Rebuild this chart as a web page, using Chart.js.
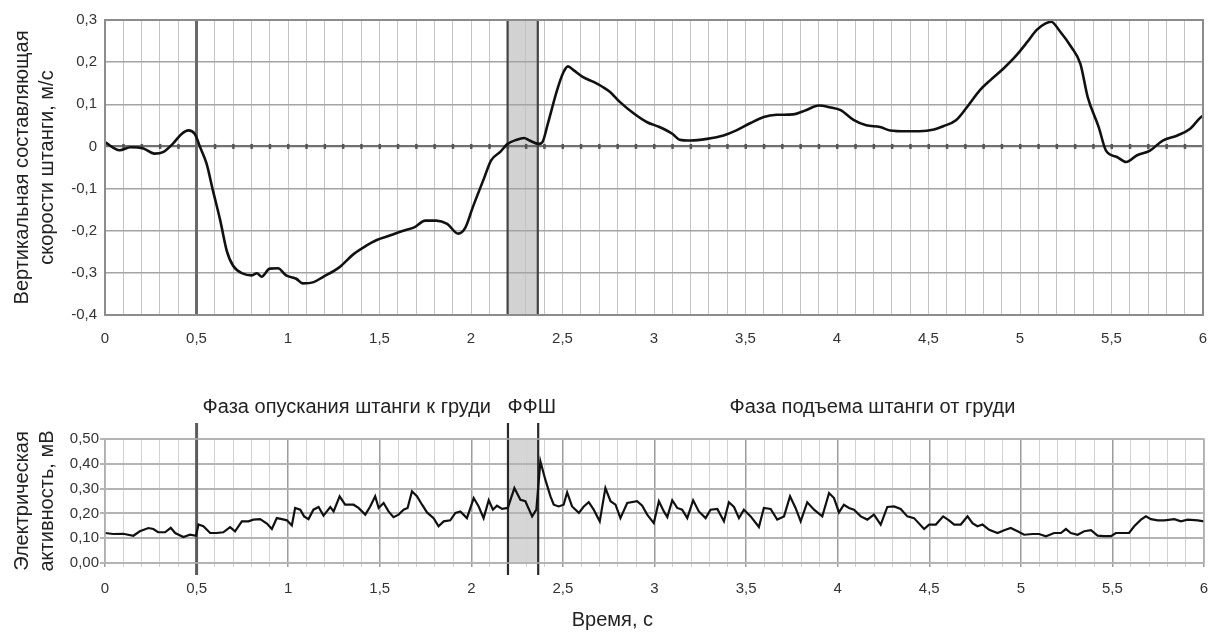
<!DOCTYPE html>
<html lang="ru">
<head>
<meta charset="utf-8">
<title>Скорость штанги и электрическая активность</title>
<script src="https://cdn.jsdelivr.net/npm/chart.js@4.4.1/dist/chart.umd.min.js"></script>
<style>
  html, body { margin: 0; padding: 0; background: #fff; }
  #wrap { position: relative; width: 1213px; height: 632px; }
  canvas { position: absolute; left: 0; }
  #speed { top: 0; }
  #emg { top: 360px; }
</style>
</head>
<body>
<div id="wrap">
  <canvas id="speed" width="1213" height="360"></canvas>
  <canvas id="emg" width="1213" height="272"></canvas>
</div>
<script>
// Vertical component of bar speed, m/s
const speedTime = [0, 0.08, 0.14, 0.21, 0.27, 0.32, 0.37, 0.42, 0.455, 0.49, 0.52, 0.555, 0.59, 0.63, 0.665, 0.70,
  0.755, 0.80, 0.83, 0.855, 0.90, 0.945, 0.99, 1.045, 1.08, 1.14, 1.19, 1.28, 1.36, 1.43, 1.485, 1.56, 1.63, 1.69,
  1.75, 1.81, 1.87, 1.93, 1.97, 2.01, 2.07, 2.11, 2.16, 2.20, 2.25, 2.29, 2.32, 2.37, 2.39, 2.42, 2.47, 2.505, 2.53,
  2.56, 2.61, 2.67, 2.72, 2.76, 2.81, 2.89, 2.96, 3.03, 3.10, 3.14, 3.20, 3.29, 3.38, 3.45, 3.525, 3.60, 3.67, 3.76,
  3.83, 3.90, 3.96, 4.02, 4.09, 4.16, 4.235, 4.29, 4.38, 4.45, 4.53, 4.58, 4.65, 4.71, 4.78, 4.84, 4.91, 4.98, 5.04,
  5.09, 5.14, 5.17, 5.22, 5.28, 5.33, 5.37, 5.43, 5.47, 5.53, 5.58, 5.64, 5.71, 5.78, 5.86, 5.93, 5.99, 6.0];
const speedValue = [0.010, -0.009, -0.002, -0.005, -0.017, -0.013, 0.006, 0.030, 0.038, 0.030, -0.002, -0.041,
  -0.105, -0.176, -0.247, -0.283, -0.302, -0.306, -0.301, -0.309, -0.290, -0.289, -0.306, -0.314, -0.325, -0.322,
  -0.310, -0.287, -0.255, -0.235, -0.222, -0.211, -0.200, -0.192, -0.176, -0.176, -0.184, -0.207, -0.192, -0.144,
  -0.077, -0.033, -0.013, 0.006, 0.016, 0.020, 0.014, 0.006, 0.010, 0.054, 0.133, 0.176, 0.190, 0.181, 0.165, 0.153,
  0.141, 0.129, 0.107, 0.078, 0.058, 0.046, 0.030, 0.016, 0.014, 0.018, 0.026, 0.038, 0.055, 0.070, 0.075, 0.076,
  0.086, 0.097, 0.093, 0.086, 0.063, 0.050, 0.046, 0.038, 0.036, 0.036, 0.040, 0.048, 0.062, 0.093, 0.133, 0.158,
  0.185, 0.216, 0.248, 0.276, 0.292, 0.296, 0.272, 0.236, 0.196, 0.117, 0.046, -0.010, -0.025, -0.037, -0.021,
  -0.010, 0.014, 0.026, 0.042, 0.070, 0.072];

// Electrical activity of the muscle, mV
const emgTime = [0, 0.045, 0.10, 0.155, 0.19, 0.237, 0.264, 0.29, 0.328, 0.359, 0.383, 0.428, 0.464, 0.497, 0.51,
  0.537, 0.574, 0.61, 0.646, 0.683, 0.71, 0.747, 0.783, 0.81, 0.847, 0.884, 0.911, 0.938, 0.966, 0.993, 1.02, 1.038,
  1.066, 1.087, 1.111, 1.138, 1.166, 1.193, 1.23, 1.248, 1.281, 1.311, 1.357, 1.384, 1.421, 1.448,
  1.475, 1.494, 1.521, 1.548, 1.575, 1.603, 1.63, 1.652, 1.676, 1.703, 1.731, 1.758, 1.794, 1.821, 1.849, 1.885,
  1.913, 1.94, 1.976, 2.013, 2.04, 2.067, 2.095, 2.118, 2.14, 2.168, 2.199, 2.235, 2.268, 2.295, 2.332, 2.355, 2.377,
  2.404, 2.432, 2.45, 2.477, 2.504, 2.523, 2.55, 2.587, 2.614, 2.641, 2.668, 2.701, 2.732, 2.76, 2.787, 2.814, 2.851,
  2.905, 2.933,
  2.96, 2.996, 3.024, 3.051, 3.07, 3.097, 3.124, 3.151, 3.179, 3.211, 3.242, 3.279, 3.306, 3.343, 3.379, 3.406, 3.434,
  3.461, 3.488, 3.525, 3.57, 3.597, 3.634, 3.67, 3.707, 3.74, 3.77, 3.798, 3.834, 3.871, 3.916, 3.953, 3.98, 4.007,
  4.034, 4.062, 4.089, 4.126, 4.162, 4.198, 4.235, 4.271, 4.308, 4.344, 4.38, 4.417,
  4.472, 4.499, 4.536, 4.576, 4.608, 4.636, 4.672, 4.709, 4.736, 4.763, 4.791, 4.827, 4.873, 4.909, 4.945, 4.982,
  5.018, 5.064, 5.1, 5.137, 5.182, 5.219, 5.246, 5.273, 5.31, 5.346, 5.383, 5.419, 5.455, 5.492, 5.519, 5.555, 5.591,
  5.619, 5.656, 5.683, 5.71, 5.747, 5.783, 5.838, 5.874, 5.911, 5.966, 6.0];
const emgValue = [0.121, 0.117, 0.118, 0.110, 0.128, 0.141, 0.137, 0.124, 0.124, 0.142, 0.121, 0.105, 0.114, 0.110,
  0.155, 0.148, 0.121, 0.121, 0.124, 0.145, 0.128, 0.168, 0.168, 0.175, 0.177, 0.159, 0.137, 0.181, 0.177, 0.172,
  0.151, 0.222, 0.215, 0.188, 0.177, 0.215, 0.226, 0.191, 0.226, 0.208, 0.269, 0.235, 0.235, 0.222, 0.195, 0.228,
  0.269, 0.222, 0.242, 0.208, 0.185, 0.195, 0.215, 0.222, 0.289, 0.269, 0.235, 0.204, 0.181, 0.148, 0.168, 0.172,
  0.202, 0.208, 0.181, 0.262, 0.228, 0.181, 0.253, 0.215, 0.231, 0.218, 0.222, 0.302, 0.255, 0.249, 0.188, 0.215,
  0.410, 0.336, 0.269, 0.235, 0.228, 0.235, 0.285, 0.228, 0.202, 0.228, 0.245, 0.215, 0.168, 0.302, 0.249, 0.235,
  0.181, 0.242, 0.249, 0.231,
  0.195, 0.161, 0.249, 0.208, 0.185, 0.253, 0.222, 0.215, 0.181, 0.253, 0.208, 0.181, 0.215, 0.218, 0.168, 0.245,
  0.226, 0.181, 0.215, 0.188, 0.145, 0.222, 0.218, 0.175, 0.188, 0.269, 0.222, 0.168, 0.245, 0.215, 0.188, 0.282,
  0.262, 0.204, 0.235, 0.222, 0.215, 0.188, 0.175, 0.195, 0.155, 0.226, 0.228, 0.218, 0.188, 0.181,
  0.137, 0.155, 0.155, 0.188, 0.172, 0.155, 0.155, 0.188, 0.161, 0.148, 0.155, 0.134, 0.121, 0.132, 0.141, 0.128,
  0.114, 0.117, 0.117, 0.108, 0.121, 0.121, 0.137, 0.121, 0.114, 0.128, 0.132, 0.110, 0.108, 0.108, 0.121, 0.121,
  0.121, 0.148, 0.175, 0.188, 0.177, 0.172, 0.172, 0.177, 0.168, 0.175, 0.172, 0.168];

// Phase boundaries of the lift, s
const phaseMarks = [0.5, 2.2, 2.365];
const chestPause = [2.2, 2.365];
const phaseLabels = ['Фаза опускания штанги к груди', 'ФФШ', 'Фаза подъема штанги от груди'];

// Tick labels
const timeTickLabels = ['0', '0,5', '1', '1,5', '2', '2,5', '3', '3,5', '4', '4,5', '5', '5,5', '6'];
const speedTickLabels = ['-0,4', '-0,3', '-0,2', '-0,1', '0', '0,1', '0,2', '0,3'];
const emgTickLabels = ['0,00', '0,10', '0,20', '0,30', '0,40', '0,50'];

const FONT = "'Liberation Sans', Arial, Helvetica, sans-serif";
Chart.defaults.font.family = FONT;
Chart.defaults.color = '#333';

const toPoints = (xs, ys) => xs.map((x, i) => ({ x, y: ys[i] }));
const timeLabel = v => {
  const k = Math.round(v * 10);
  return k % 5 === 0 ? timeTickLabels[k / 5] : '';
};
const isHalf = v => Math.round(v * 10) % 5 === 0;
// keep the plot edges fixed: no extra room for the end tick labels
const fixTimeAxis = h => s => { s.height = h; s.paddingLeft = 0; s.paddingRight = 0; };

// Shaded chest pause and the vertical phase markers
const phasePlugin = {
  id: 'phases',
  beforeDraw(chart, args, o) {
    const { ctx, chartArea: a, scales: { x } } = chart;
    const x0 = x.getPixelForValue(chestPause[0]);
    const x1 = x.getPixelForValue(chestPause[1]);
    ctx.save();
    ctx.fillStyle = o.shade;
    ctx.fillRect(x0, a.top, x1 - x0, a.bottom - a.top);
    ctx.restore();
  },
  beforeDatasetsDraw(chart, args, o) {
    const { ctx, chartArea: a, scales: { x, y } } = chart;
    ctx.save();
    // small marks along the zero line
    if (o.zeroMarks) {
      const y0 = y.getPixelForValue(0);
      ctx.fillStyle = '#555';
      for (let k = 1; k < 60; k++) {
        const px = x.getPixelForValue(k / 10);
        ctx.fillRect(px - 1, y0 - 2.5, 2.5, 5);
      }
    }
    phaseMarks.forEach((t, i) => {
      const px = x.getPixelForValue(t);
      ctx.strokeStyle = i === 0 ? o.firstColor : o.lineColor;
      ctx.lineWidth = i === 0 ? o.firstWidth : o.lineWidth;
      ctx.beginPath();
      ctx.moveTo(px, a.top - o.extendTop);
      ctx.lineTo(px, a.bottom + o.extendBottom);
      ctx.stroke();
    });
    ctx.restore();
  },
  afterDraw(chart, args, o) {
    const { ctx, chartArea: a, scales: { x } } = chart;
    ctx.save();
    ctx.strokeStyle = o.frame;
    ctx.lineWidth = o.frameWidth;
    ctx.strokeRect(a.left, a.top, a.right - a.left, a.bottom - a.top);
    if (o.labels) {
      ctx.fillStyle = '#222';
      ctx.font = '20px ' + FONT;
      ctx.textAlign = 'center';
      ctx.textBaseline = 'middle';
      o.labels.forEach((txt, i) => {
        ctx.fillText(txt, x.getPixelForValue(o.labelAt[i]), o.labelY);
      });
      ctx.fillText(o.xTitle, x.getPixelForValue(o.xTitleAt), o.xTitleY);
    }
    ctx.restore();
  }
};

// Upper chart: bar speed
new Chart(document.getElementById('speed'), {
  type: 'line',
  data: {
    datasets: [{
      data: toPoints(speedTime, speedValue),
      borderColor: '#111',
      borderWidth: 2.6,
      pointRadius: 0,
      tension: 0.4,
      cubicInterpolationMode: 'monotone',
      fill: false
    }]
  },
  options: {
    responsive: false,
    animation: false,
    devicePixelRatio: 1,
    layout: { padding: { left: 0, right: 10, top: 20, bottom: 0 } },
    plugins: {
      legend: { display: false },
      tooltip: { enabled: false },
      phases: {
        shade: '#d2d2d2', firstColor: '#6a6a6a', firstWidth: 3, lineColor: '#444', lineWidth: 2.2,
        extendTop: 0, extendBottom: 0, zeroMarks: true, frame: '#8c8c8c', frameWidth: 2
      }
    },
    scales: {
      x: {
        type: 'linear', min: 0, max: 6,
        ticks: { stepSize: 0.1, autoSkip: false, maxRotation: 0, padding: 15, font: { size: 15 }, color: '#333',
          callback: timeLabel },
        grid: { color: '#c4c4c4', lineWidth: 1, drawTicks: false },
        border: { display: false },
        afterFit: fixTimeAxis(45)
      },
      y: {
        min: -0.4, max: 0.3,
        ticks: { stepSize: 0.1, padding: 8, font: { size: 15 }, color: '#333',
          callback: v => speedTickLabels[Math.round(v * 10) + 4] },
        grid: {
          drawTicks: false,
          color: c => (Math.abs(c.tick.value) < 1e-9 ? '#707070' : '#a4a4a4'),
          lineWidth: c => (Math.abs(c.tick.value) < 1e-9 ? 2.2 : 1.4)
        },
        border: { display: false },
        title: {
          display: true,
          text: ['Вертикальная составляющая', 'скорости штанги, м/с'],
          font: { size: 20, lineHeight: 1.25 },
          color: '#222',
          padding: { top: 9.5, bottom: 0 }
        },
        afterFit: s => { s.width = 105; }
      }
    }
  },
  plugins: [phasePlugin]
});

// Lower chart: electrical activity
new Chart(document.getElementById('emg'), {
  type: 'line',
  data: {
    datasets: [{
      data: toPoints(emgTime, emgValue),
      borderColor: '#111',
      borderWidth: 2.2,
      pointRadius: 0,
      tension: 0,
      fill: false
    }]
  },
  options: {
    responsive: false,
    animation: false,
    devicePixelRatio: 1,
    layout: { padding: { left: 0, right: 9, top: 79, bottom: 0 } },
    plugins: {
      legend: { display: false },
      tooltip: { enabled: false },
      phases: {
        shade: '#d6d6d6', firstColor: '#5c5c5c', firstWidth: 3, lineColor: '#2a2a2a', lineWidth: 2.2,
        extendTop: 16, extendBottom: 12, zeroMarks: false, frame: '#b4b4b4', frameWidth: 1.5,
        labels: phaseLabels, labelAt: [1.32, 2.33, 4.19], labelY: 47,
        xTitle: 'Время, с', xTitleAt: 2.77, xTitleY: 260
      }
    },
    scales: {
      x: {
        type: 'linear', min: 0, max: 6,
        ticks: { stepSize: 0.1, autoSkip: false, maxRotation: 0, padding: 13, font: { size: 15 }, color: '#333',
          callback: timeLabel },
        grid: {
          color: c => (isHalf(c.tick.value) ? '#9c9c9c' : '#d2d2d2'),
          lineWidth: c => (isHalf(c.tick.value) ? 1.5 : 1),
          drawTicks: true, tickLength: 4
        },
        border: { display: false },
        afterFit: fixTimeAxis(69)
      },
      y: {
        min: 0, max: 0.5,
        ticks: { stepSize: 0.1, padding: 1, font: { size: 15 }, color: '#333',
          callback: v => emgTickLabels[Math.round(v * 10)] },
        grid: { color: '#b4b4b4', lineWidth: 2, drawTicks: true, tickLength: 5 },
        border: { display: false },
        title: {
          display: true,
          text: ['Электрическая', 'активность, мВ'],
          font: { size: 20, lineHeight: 1.25 },
          color: '#222',
          padding: { top: 9.5, bottom: 0 }
        },
        afterFit: s => { s.width = 105; }
      }
    }
  },
  plugins: [phasePlugin]
});
</script>
</body>
</html>
